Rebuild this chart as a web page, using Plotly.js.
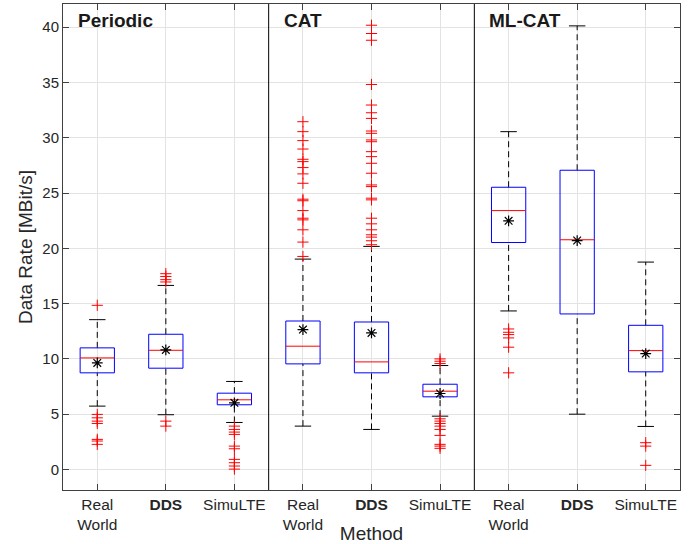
<!DOCTYPE html>
<html>
<head>
<meta charset="utf-8">
<script src="https://cdn.plot.ly/plotly-3.0.1.min.js"></script>
<style>html,body{margin:0;padding:0;background:#fff;}#chart{width:700px;height:544px;}</style>
</head>
<body>
<div id="chart"></div>
<script>
// ---- data ----
var groups = ["Periodic", "CAT", "ML-CAT"];
var methodLabels = ["Real<br>World", "<b>DDS</b>", "SimuLTE"];
var q1 = [8.73, 9.15, 5.84, 9.54, 8.73, 6.56, 20.52, 14.06, 8.82];
var medians = [10.08, 10.77, 6.29, 11.14, 9.72, 7.07, 23.41, 20.77, 10.74];
var q3 = [10.99, 12.22, 6.89, 13.42, 13.33, 7.70, 25.52, 27.06, 13.03];
var lowerWhisker = [5.72, 4.94, 4.24, 3.91, 3.61, 4.81, 14.33, 4.99, 3.88];
var upperWhisker = [13.54, 16.64, 7.95, 19.02, 20.17, 9.39, 30.55, 40.12, 18.75];
var means = [9.63, 10.80, 6.02, 12.64, 12.34, 6.86, 22.48, 20.70, 10.47];
var outliers = [
  [14.84, 4.97, 4.66, 4.36, 4.15, 2.71, 2.56, 2.26],
  [17.70, 17.45, 17.16, 16.95, 4.36, 3.91],
  [3.91, 3.61, 3.37, 3.16, 2.10, 1.86, 0.90, 0.60, 0.30, 0.02],
  [31.45, 30.55, 29.74, 28.98, 28.05, 27.84, 27.30, 26.73, 25.88, 24.44, 24.30, 23.41, 22.72, 22.57, 21.67, 20.56, 19.26],
  [40.18, 39.43, 38.82, 34.82, 32.96, 32.26, 31.75, 30.61, 30.40, 29.80, 29.64, 28.74, 28.29, 27.69, 26.79, 25.73, 25.58, 24.53, 24.38, 22.72, 22.21, 21.67, 21.22, 21.01, 20.68, 20.32],
  [9.99, 9.78, 9.57, 4.57, 4.36, 4.15, 3.91, 3.61, 3.07, 2.26, 2.10, 1.90],
  [12.70, 12.40, 12.19, 11.89, 11.05, 8.73],
  [],
  [2.41, 2.10, 0.36]
];

// ---- build ----
var nPer = methodLabels.length;
var pos = [], tickText = [];
for (var i = 0; i < q1.length; i++) { pos.push(i + 1); tickText.push(methodLabels[i % nPer]); }

var boxHalf = 0.25, capHalf = 0.12;
var wx = [], wy = [], cx = [], cy = [], bx = [], by = [], mx = [], my = [], ox = [], oy = [];
for (var i = 0; i < pos.length; i++) {
  var p = pos[i];
  wx.push(p, p, null, p, p, null);
  wy.push(q3[i], upperWhisker[i], null, lowerWhisker[i], q1[i], null);
  cx.push(p - capHalf, p + capHalf, null, p - capHalf, p + capHalf, null);
  cy.push(upperWhisker[i], upperWhisker[i], null, lowerWhisker[i], lowerWhisker[i], null);
  bx.push(p - boxHalf, p + boxHalf, p + boxHalf, p - boxHalf, p - boxHalf, null);
  by.push(q1[i], q1[i], q3[i], q3[i], q1[i], null);
  mx.push(p - boxHalf, p + boxHalf, null);
  my.push(medians[i], medians[i], null);
  for (var k = 0; k < outliers[i].length; k++) { ox.push(p); oy.push(outliers[i][k]); }
}

var traces = [
  {type: 'scatter', mode: 'lines', x: wx, y: wy, line: {color: '#000', width: 1, dash: '6px,4px'}, hoverinfo: 'skip', showlegend: false},
  {type: 'scatter', mode: 'lines', x: cx, y: cy, line: {color: '#000', width: 1}, hoverinfo: 'skip', showlegend: false},
  {type: 'scatter', mode: 'lines', x: bx, y: by, line: {color: '#0000ff', width: 1}, hoverinfo: 'skip', showlegend: false},
  {type: 'scatter', mode: 'lines', x: mx, y: my, line: {color: '#ff0000', width: 1}, hoverinfo: 'skip', showlegend: false},
  {type: 'scatter', mode: 'markers', x: ox, y: oy, marker: {symbol: 'cross-thin', size: 8, color: '#ff0000', line: {color: '#ff0000', width: 1}}, showlegend: false},
  {type: 'scatter', mode: 'markers', x: pos, y: means, marker: {symbol: 'asterisk-open', size: 9, color: '#000', line: {color: '#000', width: 1.2}}, showlegend: false}
];

var shapes = [], annotations = [];
for (var g = 0; g < groups.length; g++) {
  if (g > 0) shapes.push({type: 'line', xref: 'x', yref: 'paper', x0: g * nPer + 0.5, x1: g * nPer + 0.5, y0: 0, y1: 1, line: {color: '#000', width: 1}});
  annotations.push({text: '<b>' + groups[g] + '</b>', xref: 'x', yref: 'y', x: g * nPer + 0.69, y: 40.6, xanchor: 'left', yanchor: 'middle', showarrow: false, font: {size: 19, color: '#1a1a1a', family: 'Liberation Sans, Arial, sans-serif'}});
}

var axisCommon = {showgrid: true, gridcolor: '#e3e3e3', gridwidth: 1, zeroline: false, showline: true, linecolor: '#404040', linewidth: 1, mirror: 'ticks', ticks: 'inside', ticklen: 6, tickcolor: '#404040', tickfont: {size: 15, color: '#262626'}};

var layout = {
  width: 700, height: 544,
  margin: {l: 63, r: 20, t: 4, b: 54},
  paper_bgcolor: '#fff', plot_bgcolor: '#fff',
  font: {family: 'Liberation Sans, Arial, sans-serif', color: '#262626'},
  showlegend: false,
  xaxis: Object.assign({}, axisCommon, {range: [0.5, pos.length + 0.5], tickvals: pos, ticktext: tickText, tickfont: {size: 15.5, color: '#262626'}, title: {text: 'Method', font: {size: 19, color: '#262626'}, standoff: 0}}),
  yaxis: Object.assign({}, axisCommon, {range: [-1.87, 42.1], tick0: 0, dtick: 5, title: {text: 'Data Rate [MBit/s]', font: {size: 19, color: '#262626'}, standoff: 4}}),
  shapes: shapes,
  annotations: annotations
};

Plotly.newPlot('chart', traces, layout, {displayModeBar: false, staticPlot: true});
</script>
</body>
</html>
